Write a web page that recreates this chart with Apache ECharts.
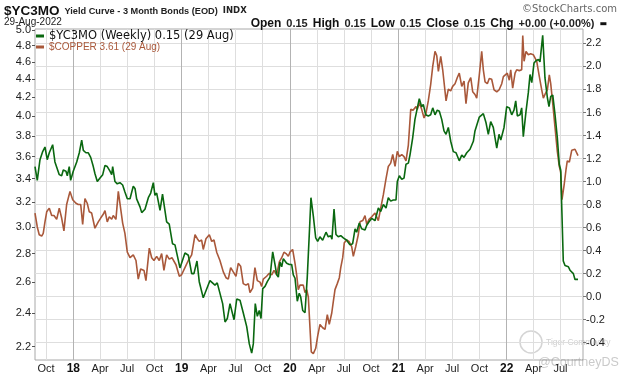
<!DOCTYPE html>
<html><head><meta charset="utf-8">
<script src="https://cdn.jsdelivr.net/npm/echarts@6/dist/echarts.min.js"></script>
<style>html,body{margin:0;padding:0;background:#fff}#c{width:620px;height:376px}</style>
</head><body><div id="c"></div>
<script>
// Times are decimal years (week dates)
const ycTimes = [2017.646,2017.667,2017.692,2017.717,2017.738,2017.759,2017.778,2017.809,2017.830,2017.846,
2017.870,2017.892,2017.907,2017.932,2017.944,2017.962,2017.975,2017.999,2018.031,2018.055,
2018.077,2018.092,2018.116,2018.138,2018.160,2018.184,2018.199,2018.221,2018.246,2018.271,
2018.292,2018.313,2018.338,2018.354,2018.363,2018.384,2018.405,2018.430,2018.455,2018.476,
2018.498,2018.523,2018.553,2018.569,2018.584,2018.615,2018.631,2018.661,2018.692,2018.714,
2018.738,2018.753,2018.769,2018.800,2018.823,2018.861,2018.885,2018.915,2018.938,2018.984,
2019.030,2019.061,2019.092,2019.113,2019.141,2019.162,2019.199,2019.261,2019.307,2019.328,
2019.378,2019.400,2019.421,2019.446,2019.483,2019.508,2019.538,2019.568,2019.600,2019.624,
2019.646,2019.661,2019.679,2019.698,2019.716,2019.732,2019.748,2019.769,2019.790,2019.815,
2019.840,2019.861,2019.877,2019.892,2019.907,2019.923,2019.938,2019.969,2019.993,2020.015,
2020.030,2020.046,2020.067,2020.085,2020.098,2020.117,2020.138,2020.159,2020.178,2020.193,
2020.215,2020.237,2020.255,2020.276,2020.301,2020.332,2020.353,2020.375,2020.387,2020.406,
2020.424,2020.445,2020.468,2020.492,2020.523,2020.553,2020.578,2020.600,2020.615,2020.639,
2020.661,2020.692,2020.708,2020.729,2020.754,2020.784,2020.815,2020.837,2020.861,2020.886,
2020.907,2020.929,2020.953,2020.978,2020.990,2021.009,2021.031,2021.052,2021.070,2021.092,
2021.107,2021.132,2021.153,2021.175,2021.193,2021.215,2021.230,2021.252,2021.276,2021.298,
2021.317,2021.338,2021.359,2021.378,2021.400,2021.421,2021.440,2021.461,2021.483,2021.507,
2021.532,2021.562,2021.585,2021.606,2021.631,2021.661,2021.692,2021.707,2021.723,2021.747,
2021.763,2021.784,2021.809,2021.830,2021.852,2021.876,2021.908,2021.929,2021.945,2021.975,
2022.000,2022.024,2022.046,2022.067,2022.083,2022.098,2022.123,2022.138,2022.153,2022.178,
2022.199,2022.215,2022.231,2022.252,2022.270,2022.292,2022.307,2022.332,2022.353,2022.375,
2022.390,2022.406,2022.425,2022.446,2022.467,2022.485,2022.498,2022.510,2022.522,2022.538,
2022.569,2022.584,2022.600,2022.615,2022.630,2022.658];
const ycValues = [1.13,1.01,1.19,1.26,1.30,1.19,1.25,1.32,1.17,1.16,
1.06,1.05,1.10,1.09,1.05,1.13,1.01,1.09,1.17,1.25,
1.36,1.27,1.25,1.25,1.21,1.13,1.07,1.00,1.03,1.06,
1.14,1.13,1.09,1.06,1.13,1.00,0.98,0.99,0.97,0.91,
0.85,0.85,0.96,0.94,0.85,0.78,0.73,0.76,0.86,0.90,
0.99,0.88,0.90,0.75,0.89,0.65,0.63,0.46,0.45,0.25,
0.38,0.36,0.20,0.20,0.31,0.13,-0.01,0.14,0.10,0.12,
-0.06,-0.22,-0.19,-0.06,-0.20,-0.02,-0.03,-0.14,-0.26,-0.41,
-0.49,-0.41,-0.06,-0.17,-0.12,-0.19,0.07,0.09,0.13,0.17,
0.39,0.28,0.19,0.17,0.30,0.26,0.33,0.29,0.28,0.28,
0.19,0.16,-0.04,0.03,0.00,-0.12,-0.14,0.17,0.55,0.86,
0.70,0.51,0.48,0.52,0.49,0.56,0.52,0.53,0.50,0.76,
0.54,0.52,0.53,0.51,0.49,0.45,0.46,0.59,0.56,0.64,
0.59,0.58,0.62,0.65,0.68,0.66,0.77,0.74,0.80,0.77,
0.86,0.83,0.84,0.84,1.00,1.05,1.02,1.03,1.15,1.16,
1.23,1.38,1.54,1.64,1.72,1.65,1.67,1.58,1.57,1.58,
1.64,1.58,1.62,1.61,1.54,1.44,1.41,1.47,1.35,1.26,
1.25,1.18,1.23,1.21,1.25,1.28,1.35,1.44,1.45,1.56,
1.55,1.59,1.51,1.41,1.52,1.47,1.29,1.41,1.36,1.47,
1.65,1.64,1.58,1.62,1.70,1.57,1.58,1.64,1.39,1.61,
1.77,1.93,1.86,2.03,2.05,2.06,2.04,2.27,1.90,1.73,
1.65,1.74,1.75,1.58,1.38,1.15,1.10,0.71,0.31,0.27,
0.26,0.23,0.24,0.20,0.15,0.15];

const cuTimes = [2017.646,2017.667,2017.685,2017.708,2017.722,2017.738,2017.754,2017.778,2017.800,2017.821,
2017.846,2017.870,2017.892,2017.913,2017.938,2017.969,2017.994,2018.024,2018.045,2018.068,
2018.086,2018.107,2018.128,2018.147,2018.169,2018.199,2018.230,2018.252,2018.276,2018.292,
2018.313,2018.332,2018.354,2018.368,2018.393,2018.415,2018.430,2018.455,2018.476,2018.498,
2018.523,2018.553,2018.578,2018.599,2018.621,2018.652,2018.670,2018.701,2018.723,2018.744,
2018.769,2018.793,2018.815,2018.836,2018.861,2018.885,2018.910,2018.947,2018.978,2018.999,
2019.030,2019.061,2019.092,2019.123,2019.144,2019.162,2019.184,2019.199,2019.224,2019.255,
2019.277,2019.298,2019.323,2019.353,2019.384,2019.409,2019.430,2019.452,2019.476,2019.501,
2019.522,2019.544,2019.568,2019.593,2019.615,2019.630,2019.655,2019.676,2019.698,2019.723,
2019.738,2019.753,2019.784,2019.808,2019.831,2019.852,2019.877,2019.901,2019.923,2019.944,
2019.963,2019.984,2019.999,2020.024,2020.046,2020.061,2020.076,2020.092,2020.108,2020.122,
2020.138,2020.154,2020.169,2020.184,2020.196,2020.215,2020.237,2020.255,2020.276,2020.301,
2020.323,2020.344,2020.362,2020.385,2020.399,2020.415,2020.436,2020.455,2020.468,2020.486,
2020.501,2020.523,2020.544,2020.569,2020.584,2020.606,2020.630,2020.646,2020.671,2020.692,
2020.708,2020.729,2020.754,2020.784,2020.815,2020.837,2020.861,2020.886,2020.907,2020.929,
2020.948,2020.969,2020.990,2021.009,2021.031,2021.052,2021.070,2021.092,2021.114,2021.135,
2021.144,2021.163,2021.175,2021.193,2021.215,2021.237,2021.255,2021.276,2021.298,2021.317,
2021.338,2021.354,2021.369,2021.391,2021.409,2021.421,2021.440,2021.461,2021.483,2021.501,
2021.523,2021.544,2021.562,2021.585,2021.606,2021.624,2021.645,2021.668,2021.686,2021.707,
2021.723,2021.747,2021.769,2021.784,2021.800,2021.821,2021.839,2021.861,2021.883,2021.908,
2021.929,2021.954,2021.969,2021.984,2022.005,2022.024,2022.037,2022.055,2022.077,2022.092,
2022.116,2022.138,2022.148,2022.160,2022.178,2022.199,2022.221,2022.245,2022.261,2022.277,
2022.301,2022.323,2022.338,2022.353,2022.375,2022.393,2022.406,2022.425,2022.446,2022.467,
2022.485,2022.498,2022.510,2022.529,2022.547,2022.559,2022.578,2022.600,2022.615,2022.630,
2022.658];
const cuValues = [3.11,3.00,2.94,2.93,2.95,3.04,3.12,3.15,3.09,3.09,
3.06,3.15,3.07,2.97,3.18,3.29,3.22,3.19,3.18,3.18,
3.02,3.23,3.19,3.12,3.11,2.99,3.04,3.07,3.10,3.13,
3.04,3.08,3.06,3.09,3.06,3.29,3.19,3.03,2.95,2.81,
2.77,2.79,2.75,2.62,2.69,2.68,2.61,2.84,2.77,2.75,
2.78,2.75,2.80,2.68,2.79,2.76,2.77,2.72,2.64,2.65,
2.70,2.75,2.79,2.94,2.91,2.89,2.90,2.83,2.91,2.94,
2.89,2.90,2.81,2.75,2.67,2.63,2.62,2.70,2.67,2.64,
2.73,2.71,2.59,2.58,2.59,2.53,2.56,2.70,2.61,2.60,
2.57,2.62,2.64,2.66,2.65,2.68,2.65,2.74,2.77,2.81,
2.80,2.78,2.81,2.83,2.73,2.65,2.55,2.58,2.59,2.58,
2.53,2.55,2.50,2.31,2.17,2.16,2.19,2.26,2.33,2.31,
2.30,2.39,2.33,2.40,2.47,2.55,2.59,2.63,2.70,2.77,
2.88,2.90,2.89,2.85,2.78,2.85,2.94,3.04,3.05,3.09,
3.02,3.06,3.08,3.11,3.05,3.15,3.26,3.40,3.51,3.54,
3.62,3.51,3.65,3.60,3.62,3.60,3.56,3.71,4.07,4.06,
4.08,4.10,4.07,4.14,4.07,3.98,4.03,4.16,4.34,4.55,
4.73,4.68,4.49,4.67,4.51,4.52,4.16,4.29,4.27,4.32,
4.35,4.42,4.47,4.32,4.38,4.13,4.36,4.42,4.26,4.23,
4.19,4.45,4.73,4.51,4.37,4.35,4.41,4.40,4.28,4.26,
4.28,4.35,4.43,4.42,4.47,4.39,4.51,4.30,4.47,4.51,
4.50,4.51,4.93,4.61,4.73,4.69,4.70,4.69,4.71,4.61,
4.43,4.28,4.19,4.23,4.28,4.45,4.35,4.13,3.88,3.65,
3.51,3.46,3.22,3.34,3.48,3.56,3.55,3.66,3.67,3.67,
3.61];

const leftTickLabels = [2.2,2.4,2.6,2.8,3.0,3.2,3.4,3.6,3.8,4.0,4.2,4.4,4.6,4.8,5.0];
const rightTickLabels = [-0.4,-0.2,0.0,0.2,0.4,0.6,0.8,1.0,1.2,1.4,1.6,1.8,2.0,2.2];
const yearTicks = [2018,2019,2020,2021,2022];
const quarterTicks = [2017.748,2018.247,2018.496,2018.748,2019.247,2019.496,2019.748,2020.247,2020.496,2020.748,
  2021.247,2021.496,2021.748,2022.247,2022.496];
const allXTicks = quarterTicks.concat(yearTicks).sort((a,b)=>a-b);

const GREEN = '#0a6810';
const BROWN = '#a9583a';

function xLabel(v){
  const y = Math.floor(v + 1e-6);
  const f = v - y;
  if (f < 0.01) return '{y|' + String(y).slice(2) + '}';
  if (f < 0.35) return 'Apr';
  if (f < 0.6) return 'Jul';
  return 'Oct';
}

const chart = echarts.init(document.getElementById('c'), null, {renderer:'canvas'});
chart.setOption({
  animation: false,
  backgroundColor: '#fff',
  textStyle: {fontFamily: 'Liberation Sans'},
  title: [
    {text: '{a|$YC3MO} {b|Yield Curve - 3 Month Bonds (EOD)} {c|INDX}', left: 4, top: 2, padding: 0,
     textStyle: {rich: {
       a: {fontFamily: 'Liberation Sans', fontWeight: 'bold', fontSize: 13.5, color: '#111'},
       b: {fontFamily: 'Liberation Sans', fontSize: 9.2, color: '#222'},
       c: {fontFamily: 'DejaVu Sans', fontSize: 8.5, color: '#222'}}}},
    {text: '29-Aug-2022', left: 4, top: 17, padding: 0, textStyle: {fontFamily: 'Liberation Sans', fontSize: 10, fontWeight: 'normal', color: '#222'}},
    {text: '{k|Open} {v|0.15} {k|High} {v|0.15} {k|Low} {v|0.15} {k|Close} {v|0.15} {k|Chg} {v|+0.00 (+0.00%)} {d|▬}',
     right: 13, top: 15, padding: 0,
     textStyle: {rich: {
       k: {fontFamily: 'Liberation Sans', fontWeight: 'bold', fontSize: 12, color: '#111'},
       v: {fontFamily: 'Liberation Sans', fontSize: 11, color: '#222'},
       d: {fontFamily: 'DejaVu Sans', fontSize: 8, color: '#111'}}}},
    {text: '©StockCharts.com', right: 3, top: 4, padding: 0, textStyle: {fontFamily: 'DejaVu Sans', fontSize: 10, fontWeight: 'normal', color: '#666'}}
  ],
  legend: {
    left: 36, top: 30, orient: 'vertical', itemGap: 0, itemWidth: 8, itemHeight: 3, icon: 'rect',
    selectedMode: false, padding: 0,
    data: [
      {name: '$YC3MO (Weekly) 0.15 (29 Aug)', textStyle: {fontFamily: 'DejaVu Sans', fontSize: 11.5, color: '#111', lineHeight: 10}},
      {name: '$COPPER 3.61 (29 Aug)', textStyle: {fontFamily: 'Liberation Sans', fontSize: 10, color: BROWN, lineHeight: 10}}
    ]
  },
  grid: {left: 35, right: 37, top: 29, bottom: 16, show: true, borderColor: '#a8a8a8', borderWidth: 1, backgroundColor: 'transparent'},
  xAxis: [
    {type: 'value', min: 2017.646, max: 2022.704, position: 'bottom',
     axisLine: {show: false},
     axisTick: {show: false, customValues: quarterTicks},
     splitLine: {show: true, lineStyle: {color: '#dedede', width: 1}},
     axisLabel: {customValues: allXTicks, formatter: xLabel, margin: 3, fontSize: 11, color: '#222', fontFamily: 'Liberation Sans',
       rich: {y: {fontWeight: 'bold', fontSize: 12, color: '#111', fontFamily: 'Liberation Sans'}}}},
    {type: 'value', min: 2017.646, max: 2022.704, position: 'bottom',
     axisLine: {show: false}, axisLabel: {show: false},
     axisTick: {show: false, customValues: yearTicks},
     splitLine: {show: true, lineStyle: {color: '#b3b3b3', width: 1}}}
  ],
  yAxis: [
    {type: 'log', position: 'left', min: 2.1245, max: 5.013,
     axisLine: {show: false},
     axisTick: {show: true, length: 3, customValues: leftTickLabels, lineStyle: {color: '#555'}},
     axisLabel: {customValues: leftTickLabels, formatter: v => v.toFixed(1), margin: 4, fontSize: 11, color: '#222', fontFamily: 'Liberation Sans'},
     splitLine: {show: false}},
    {type: 'value', position: 'right', min: -0.55, max: 2.325,
     axisLine: {show: false},
     axisTick: {show: true, length: 3, customValues: rightTickLabels, lineStyle: {color: '#777'}},
     axisLabel: {customValues: rightTickLabels, formatter: v => v.toFixed(1), margin: 3, fontSize: 11, color: '#222', fontFamily: 'Liberation Sans'},
     splitLine: {show: true, lineStyle: {color: '#dedede', width: 1}}}
  ],
  graphic: [
    {type: 'circle', shape: {cx: 531, cy: 342, r: 11}, style: {fill: 'none', stroke: 'rgba(160,160,160,0.45)', lineWidth: 1.5}, silent: true},
    {type: 'text', x: 546, y: 338, style: {text: 'Tiger Commodity', font: '8.5px "Liberation Sans"', fill: 'rgba(150,150,150,0.45)'}, silent: true},
    {type: 'text', x: 538, y: 356, style: {text: '@CourtneyDS', font: '12.5px "Liberation Sans"', fill: 'rgba(150,150,150,0.5)'}, silent: true}
  ],
  series: [
    {name: '$COPPER 3.61 (29 Aug)', type: 'line', xAxisIndex: 0, yAxisIndex: 0, showSymbol: false, symbol: 'none',
     color: BROWN, lineStyle: {color: BROWN, width: 1.6}, z: 2,
     data: cuTimes.map((t, i) => [t, cuValues[i]])},
    {name: '$YC3MO (Weekly) 0.15 (29 Aug)', type: 'line', xAxisIndex: 0, yAxisIndex: 1, showSymbol: false, symbol: 'none',
     color: GREEN, lineStyle: {color: GREEN, width: 1.6}, z: 3,
     data: ycTimes.map((t, i) => [t, ycValues[i]])}
  ]
});
</script>
</body></html>
